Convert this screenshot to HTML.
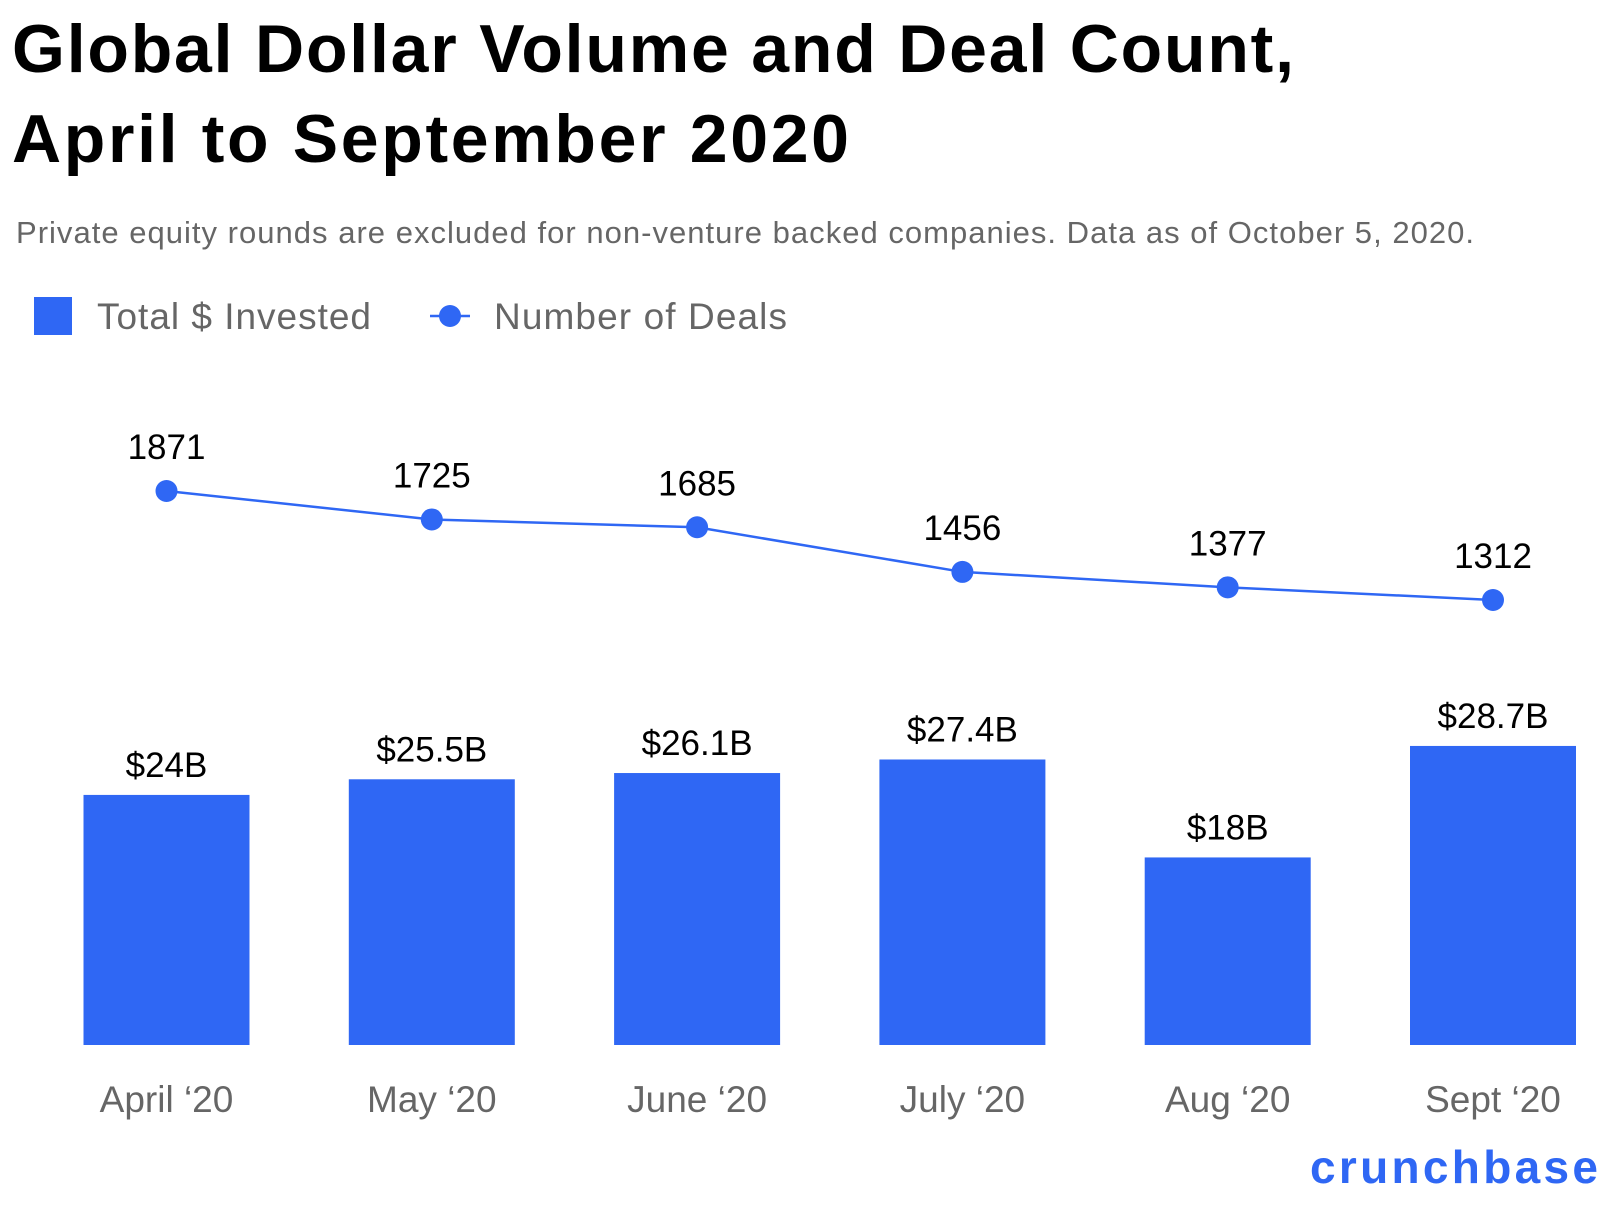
<!DOCTYPE html>
<html><head><meta charset="utf-8"><style>
body{margin:0;background:#fff;width:1606px;height:1200px;overflow:hidden;font-family:"Liberation Sans",sans-serif}
</style></head><body>
<svg width="1606" height="1200" viewBox="0 0 1606 1200" xmlns="http://www.w3.org/2000/svg">
<text x="12" y="72" font-size="68" font-weight="bold" letter-spacing="-2" fill="#000" textLength="1280">Global Dollar Volume and Deal Count,</text>
<text x="12" y="162" font-size="68" font-weight="bold" letter-spacing="-2" fill="#000" textLength="835">April to September 2020</text>
<text x="16" y="243" font-size="31" fill="#666" textLength="1458">Private equity rounds are excluded for non-venture backed companies. Data as of October 5, 2020.</text>
<rect x="34" y="297" width="38" height="38" fill="#2f67f4"/>
<text x="97" y="329" font-size="37" fill="#666" textLength="274">Total $ Invested</text>
<line x1="430" y1="316" x2="470" y2="316" stroke="#2f67f4" stroke-width="2.5"/>
<circle cx="450" cy="316" r="11" fill="#2f67f4"/>
<text x="494" y="329" font-size="37" fill="#666" textLength="293">Number of Deals</text>
<g id="plot"></g>
<text x="1598" y="1183" font-size="46" font-weight="bold" fill="#2f67f4" text-anchor="end" textLength="288">crunchbase</text>
</svg>
<script>
const categories=["April ‘20","May ‘20","June ‘20","July ‘20","Aug ‘20","Sept ‘20"];
const invested=[24,25.5,26.1,27.4,18,28.7];
const investedLabels=["$24B","$25.5B","$26.1B","$27.4B","$18B","$28.7B"];
const deals=[1871,1725,1685,1456,1377,1312];
const NS="http://www.w3.org/2000/svg";
const g=document.getElementById('plot');
const xC=i=>166.5+i*265.3;
const yBar=v=>1045-v*10.42;
const yLine=v=>491+(1871-v)*0.195;
function mk(t,a){const e=document.createElementNS(NS,t);for(const k in a)e.setAttribute(k,a[k]);g.appendChild(e);return e;}
categories.forEach((c,i)=>{
  const r=mk('rect',{x:xC(i)-83,y:yBar(invested[i]),width:166,height:1045-yBar(invested[i]),fill:'#2f67f4'});
  
  
  const l=mk('text',{x:xC(i),y:yBar(invested[i])-18,'font-size':35,'text-anchor':'middle',fill:'#000'});
  l.textContent=investedLabels[i];
  
  
  const x=mk('text',{x:xC(i),y:1112,'font-size':37,'text-anchor':'middle',fill:'#666'});
  x.textContent=c;
  
  
});
const p=mk('polyline',{points:deals.map((d,i)=>xC(i)+','+yLine(d)).join(' '),fill:'none',stroke:'#2f67f4','stroke-width':2.5});


deals.forEach((d,i)=>{
  const c=mk('circle',{cx:xC(i),cy:yLine(d),r:11,fill:'#2f67f4'});
  
  
  const t=mk('text',{x:xC(i),y:yLine(d)-32,'font-size':35,'text-anchor':'middle',fill:'#000'});
  t.textContent=d;
  
  
});
</script>
</body></html>
